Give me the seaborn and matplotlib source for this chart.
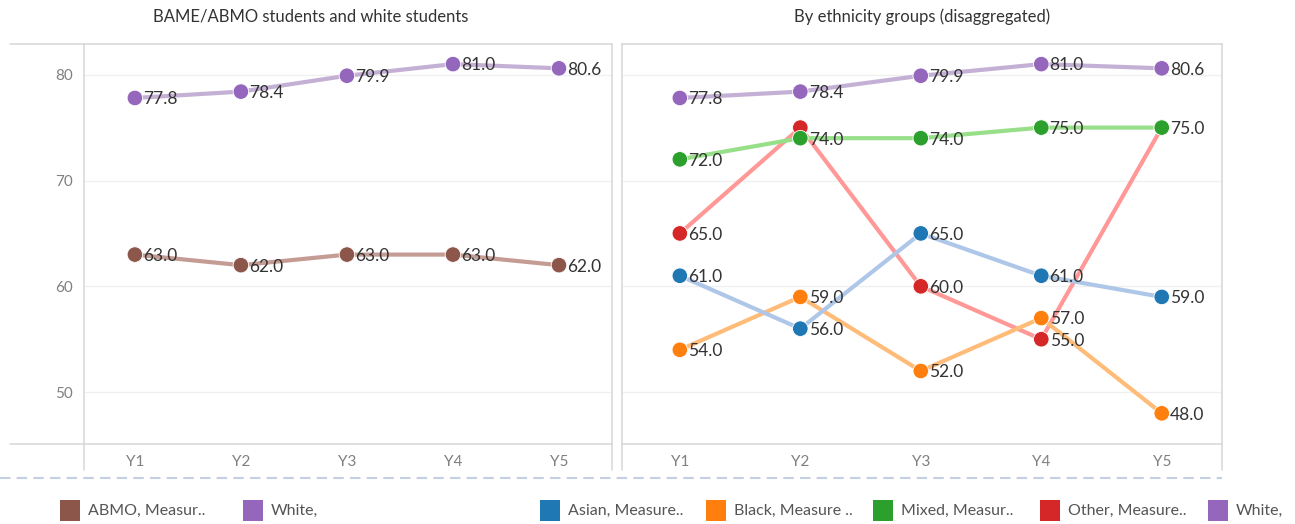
import numpy as np
import pandas as pd
import matplotlib
matplotlib.use("Agg")
import matplotlib.pyplot as plt
from matplotlib.lines import Line2D
from matplotlib.patches import Rectangle
import seaborn as sns

# data
years = ["Y1", "Y2", "Y3", "Y4", "Y5"]
abmo = [63.0, 62.0, 63.0, 63.0, 62.0]
white = [77.8, 78.4, 79.9, 81.0, 80.6]
asian = [61.0, 56.0, 65.0, 61.0, 59.0]
black = [54.0, 59.0, 52.0, 57.0, 48.0]
mixed = [72.0, 74.0, 74.0, 75.0, 75.0]
other = [65.0, 75.0, 60.0, 55.0, 75.0]
y_ticks = [50, 60, 70, 80]

left_groups = {"ABMO": abmo, "White": white}
right_groups = {"Asian": asian, "Black": black, "Mixed": mixed, "Other": other, "White": white}
# labels hidden in the reference because they overlap other points
hidden = {("Other", 1), ("Other", 4)}

dark = {"ABMO": "#8c564b", "White": "#9467bd", "Asian": "#1f77b4",
        "Black": "#ff7f0e", "Mixed": "#2ca02c", "Other": "#d62728"}
light = {"ABMO": "#c49c94", "White": "#c5b0d5", "Asian": "#aec7e8",
         "Black": "#ffbb78", "Mixed": "#98df8a", "Other": "#ff9896"}


def long_form(groups, order):
    rows = []
    for name in order:
        for i, v in enumerate(groups[name]):
            rows.append({"group": name, "pos": i, "year": years[i], "value": v})
    return pd.DataFrame(rows)


sns.set_style("white")
plt.rcParams["font.family"] = ["Lato", "DejaVu Sans"]

W, H = 1295, 524
fig = plt.figure(figsize=(W / 100, H / 100), dpi=100)


def fx(px):
    return px / W


def fy(py):
    return 1 - py / H


frame_col = "#d9d9d9"
ax_l = fig.add_axes([fx(84), fy(444), fx(612 - 84), fy(44) - fy(444)])
ax_r = fig.add_axes([fx(622), fy(444), fx(1222 - 622), fy(44) - fy(444)])


def draw_panel(ax, groups):
    # draw later groups first so the earlier ones sit on top
    order = list(groups.keys())[::-1]
    df = long_form(groups, order)
    sns.lineplot(data=df, x="pos", y="value", hue="group", hue_order=order,
                 palette=light, linewidth=3, legend=False, ax=ax, zorder=2)
    sns.scatterplot(data=df, x="pos", y="value", hue="group", hue_order=order,
                    palette=dark, s=125, edgecolor="white", linewidth=0.6,
                    legend=False, ax=ax, zorder=3)
    for name, vals in groups.items():
        for i, v in enumerate(vals):
            if (name, i) in hidden:
                continue
            ax.annotate(f"{v:.1f}", (i, v), xytext=(6, -1), textcoords="offset points",
                        va="center", ha="left", fontsize=12.5, color="#333333", zorder=4)
    ax.set_xlim(-0.48, 4.5)
    ax.set_ylim(45.1, 82.9)
    ax.set_yticks(y_ticks)
    ax.set_xticks(range(len(years)))
    ax.set_xticklabels(years)
    ax.set_xticks([0.5, 1.5, 2.5, 3.5], minor=True)
    ax.grid(axis="y", color="#f0f0f0", linewidth=1)
    ax.set_axisbelow(True)
    ax.set_xlabel("")
    ax.set_ylabel("")
    for s in ax.spines.values():
        s.set_color(frame_col)
        s.set_linewidth(1.2)
    ax.tick_params(axis="both", which="major", length=0, labelsize=11,
                   labelcolor="#808080", pad=8)
    ax.tick_params(axis="x", which="minor", length=19, color="#f0f0f0", width=1)


draw_panel(ax_l, left_groups)
draw_panel(ax_r, right_groups)
ax_r.tick_params(axis="y", labelleft=False)

# frame extensions beyond the plot areas
ext = [((10, 84), (44, 44)), ((10, 84), (444, 444)),
       ((84, 84), (444, 470)), ((612, 612), (444, 470)),
       ((622, 622), (444, 470)), ((1222, 1222), (444, 470))]
for xs, ys in ext:
    fig.add_artist(Line2D([fx(xs[0]), fx(xs[1])], [fy(ys[0]), fy(ys[1])],
                          color=frame_col, linewidth=1.2, transform=fig.transFigure))
fig.add_artist(Line2D([fx(0), fx(1222)], [fy(478), fy(478)], color="#c3cfe2",
                      linewidth=1.5, linestyle=(0, (5, 3)), transform=fig.transFigure))

# titles
fig.text(fx(311), fy(17), "BAME/ABMO students and white students", ha="center",
         va="center", fontsize=12, color="#333333")
fig.text(fx(922), fy(17), "By ethnicity groups (disaggregated)", ha="center",
         va="center", fontsize=12, color="#333333")

# legends
legend_items = [(60, "ABMO", "ABMO, Measur.."), (243, "White", "White,"),
                (540, "Asian", "Asian, Measure.."), (706, "Black", "Black, Measure .."),
                (873, "Mixed", "Mixed, Measur.."), (1040, "Other", "Other, Measure.."),
                (1208, "White", "White,")]
for x0, key, text in legend_items:
    fig.add_artist(Rectangle((fx(x0), fy(521)), fx(20), fy(500) - fy(521),
                             facecolor=dark[key], edgecolor="none", transform=fig.transFigure))
    fig.text(fx(x0 + 28), fy(511), text, ha="left", va="center", fontsize=11.5, color="#555555")

fig.savefig("out.png", dpi=100)
